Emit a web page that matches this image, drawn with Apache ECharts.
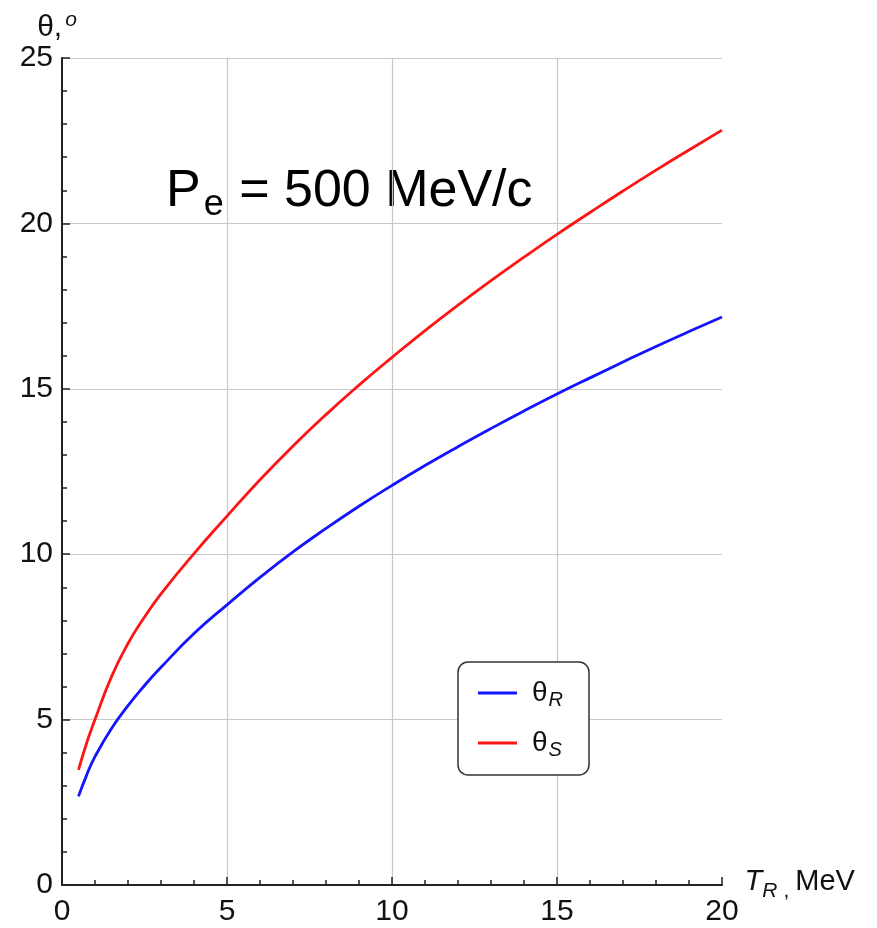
<!DOCTYPE html>
<html>
<head>
<meta charset="utf-8">
<script src="https://cdn.jsdelivr.net/npm/echarts@6/dist/echarts.min.js"></script>
<style>
  html, body { margin: 0; padding: 0; background: #fff; }
  #main { width: 877px; height: 928px; }
</style>
</head>
<body>
<div id="main"></div>
<script>
// kinetic energy of recoil, MeV
var energy = [0.5, 0.75, 1, 1.5, 2, 2.5, 3, 4, 5, 6, 7, 8, 9, 10, 11, 12, 13, 14, 15, 16, 17, 18, 19, 20];
// angles, degrees
var thetaR = [2.68, 3.33, 3.88, 4.73, 5.42, 6.03, 6.58, 7.6, 8.47, 9.3, 10.07, 10.78, 11.45, 12.08, 12.68, 13.25, 13.8, 14.33, 14.84, 15.33, 15.81, 16.28, 16.73, 17.17];
var thetaS = [3.48, 4.3, 5.0, 6.3, 7.3, 8.1, 8.8, 10.02, 11.15, 12.25, 13.27, 14.22, 15.11, 15.95, 16.76, 17.53, 18.27, 18.98, 19.67, 20.33, 20.98, 21.61, 22.22, 22.82];
var xTicks = [0, 5, 10, 15, 20];
var yTicks = [0, 5, 10, 15, 20, 25];

var font = '"Liberation Sans", Arial, Helvetica, sans-serif';

function pairs(xs, ys) {
    var out = [];
    for (var i = 0; i < xs.length; i++) out.push([xs[i], ys[i]]);
    return out;
}

var chart = echarts.init(document.getElementById('main'));

var option = {
    animation: false,
    backgroundColor: '#fff',
    textStyle: { fontFamily: font },
    grid: { left: 62, right: 155, top: 58, bottom: 43, containLabel: false },
    xAxis: {
        type: 'value',
        min: xTicks[0],
        max: xTicks[xTicks.length - 1],
        interval: 5,
        name: '{it|T}{sub|R}{cm|,}{n|MeV}',
        nameLocation: 'end',
        nameGap: 18,
        nameTextStyle: {
            verticalAlign: 'middle',
            padding: [0, 0, 6, 0],
            rich: {
                it: { fontSize: 29, fontStyle: 'italic', fontFamily: font, color: '#111' },
                sub: { fontSize: 21, fontStyle: 'italic', fontFamily: font, color: '#111', verticalAlign: 'bottom', padding: [18, 0, 0, 0] },
                cm: { fontSize: 21, fontFamily: font, color: '#111', verticalAlign: 'bottom', padding: [18, 6, 0, 6] },
                n: { fontSize: 29, fontFamily: font, color: '#111' }
            }
        },
        axisLine: { show: true, lineStyle: { color: '#222', width: 2 } },
        axisTick: { show: true, inside: true, length: 8, lineStyle: { color: '#222', width: 1.5 } },
        minorTick: { show: true, splitNumber: 5, length: 5, lineStyle: { color: '#222', width: 1.5 } },
        axisLabel: { fontSize: 30, color: '#111', margin: 12, fontFamily: font },
        splitLine: { show: true, showMinLine: false, showMaxLine: false, lineStyle: { color: '#c8c8c8', width: 1.2 } }
    },
    yAxis: {
        type: 'value',
        min: yTicks[0],
        max: yTicks[yTicks.length - 1],
        interval: 5,
        name: '\u03b8,{sup|o}',
        nameLocation: 'end',
        nameGap: 13,
        nameTextStyle: {
            fontSize: 30,
            color: '#111',
            fontFamily: font,
            padding: [0, 10, 0, 0],
            rich: {
                sup: { fontSize: 21, fontStyle: 'italic', color: '#111', fontFamily: font, verticalAlign: 'top', padding: [0, 0, 14, 3] }
            }
        },
        axisLine: { show: true, lineStyle: { color: '#222', width: 2 } },
        axisTick: { show: true, inside: true, length: 8, lineStyle: { color: '#222', width: 1.5 } },
        minorTick: { show: true, splitNumber: 5, length: 5, lineStyle: { color: '#222', width: 1.5 } },
        axisLabel: { fontSize: 30, color: '#111', margin: 9, fontFamily: font },
        splitLine: { show: true, showMinLine: false, showMaxLine: true, lineStyle: { color: '#c8c8c8', width: 1.2 } }
    },
    legend: {
        orient: 'vertical',
        left: 458,
        top: 662,
        backgroundColor: '#fff',
        borderColor: '#333',
        borderWidth: 1.5,
        borderRadius: 10,
        padding: [17, 26, 15, 20],
        itemGap: 19,
        itemWidth: 39,
        itemHeight: 3,
        icon: 'rect',
        textStyle: {
            fontSize: 28,
            color: '#111',
            fontFamily: font,
            rich: {
                th: { fontSize: 28, color: '#111', fontFamily: font, padding: [0, 0, 0, 10] },
                sub: { fontSize: 20, fontStyle: 'italic', color: '#111', fontFamily: font, verticalAlign: 'bottom', padding: [14, 0, 0, 1] }
            }
        },
        formatter: function (name) {
            return name === 'R' ? '{th|\u03b8}{sub|R}' : '{th|\u03b8}{sub|S}';
        },
        data: ['R', 'S']
    },
    graphic: [{
        type: 'text',
        left: 166,
        top: 166,
        style: {
            text: '{p|P}{sub|e}{p| = 500 MeV/c}',
            fill: '#000',
            rich: {
                p: { fontSize: 52, fontFamily: font, fill: '#000' },
                sub: { fontSize: 36, fontFamily: font, fill: '#000', verticalAlign: 'bottom', padding: [26, 1, 0, 3] }
            }
        }
    }],
    series: [
        {
            name: 'R',
            type: 'line',
            smooth: true,
            symbol: 'none',
            lineStyle: { color: '#1414ff', width: 2.8 },
            itemStyle: { color: '#1414ff' },
            data: pairs(energy, thetaR)
        },
        {
            name: 'S',
            type: 'line',
            smooth: true,
            symbol: 'none',
            lineStyle: { color: '#ff1414', width: 2.8 },
            itemStyle: { color: '#ff1414' },
            data: pairs(energy, thetaS)
        }
    ]
};

chart.setOption(option);
</script>
</body>
</html>
